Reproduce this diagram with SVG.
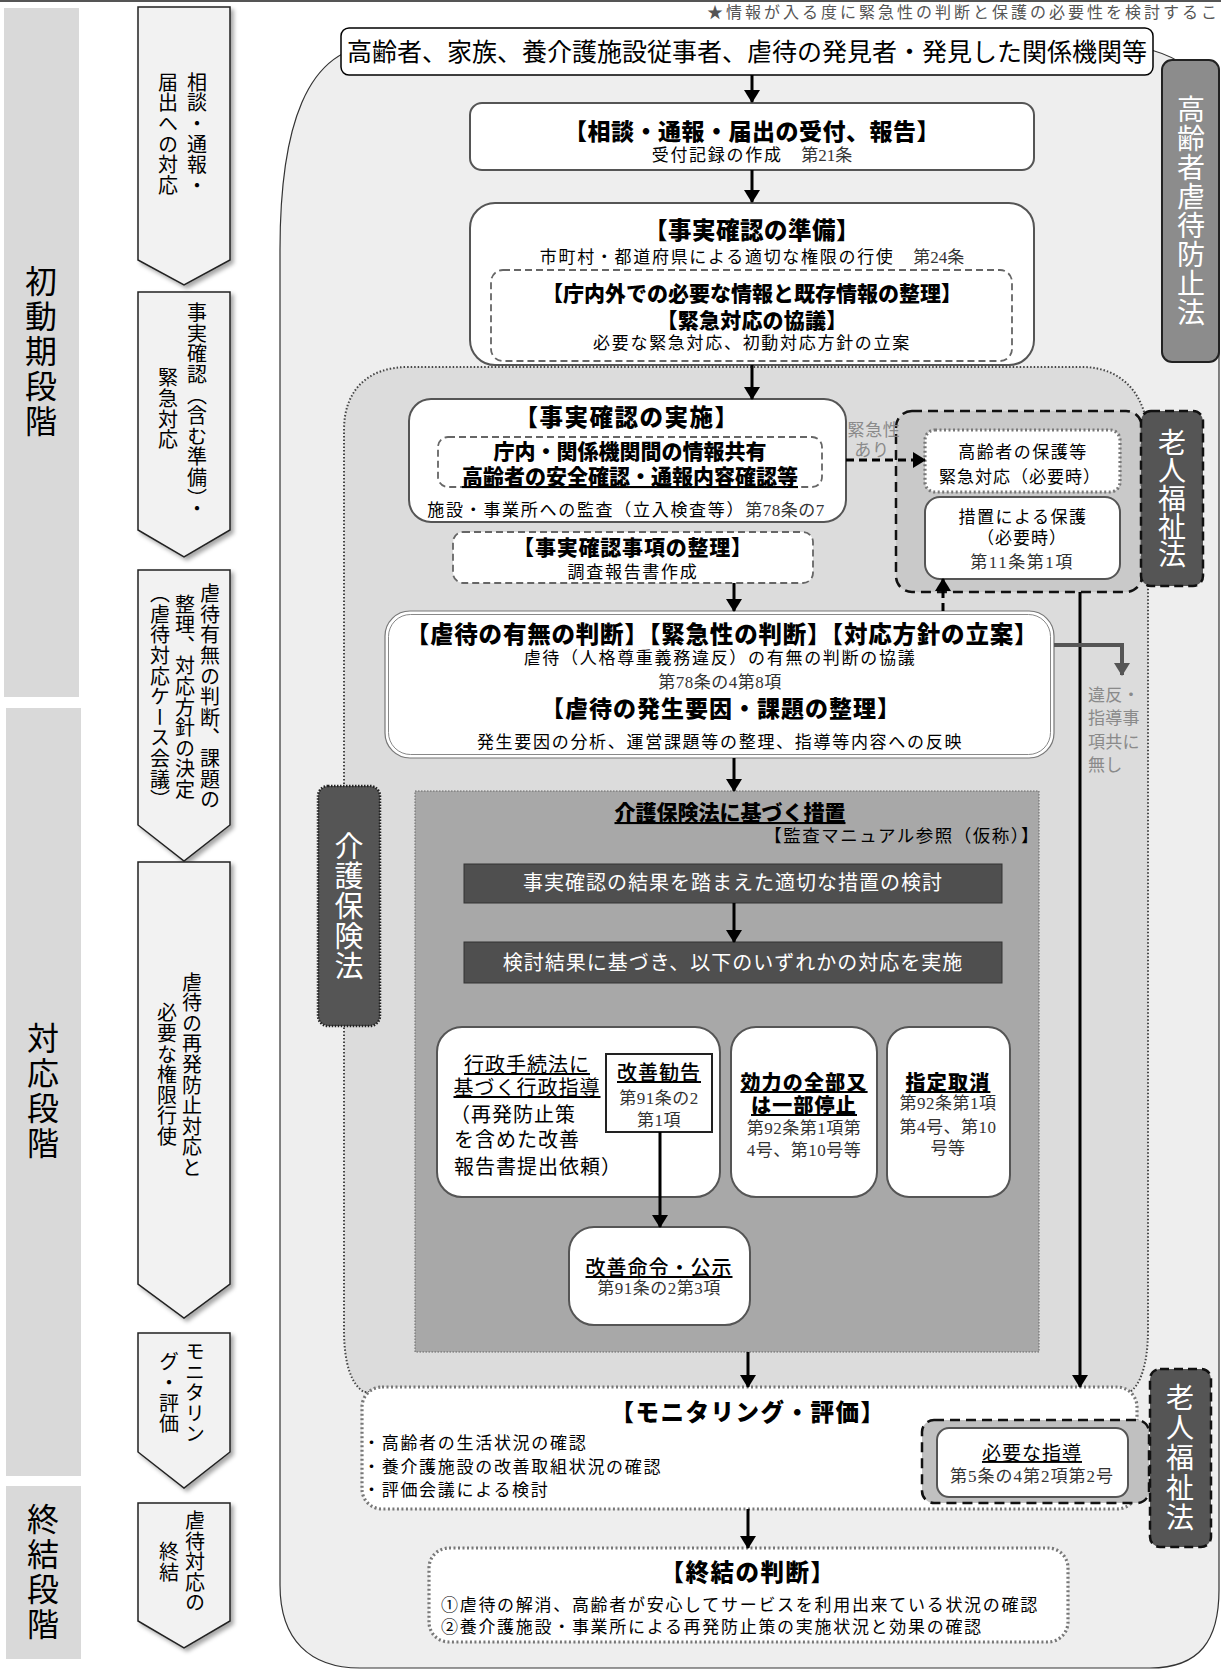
<svg xmlns="http://www.w3.org/2000/svg" width="1221" height="1669" viewBox="0 0 1221 1669">
<defs>
<style>
text{font-family:"Noto Sans CJK JP","Noto Sans",sans-serif;fill:#000}
.v{writing-mode:vertical-rl;text-anchor:middle}
.c{text-anchor:middle}
.e{text-anchor:end}
.b{font-weight:900}
.s{font-family:"Liberation Serif","Noto Sans CJK JP",serif;fill:#333}
.u{text-decoration:underline}
.w{fill:#fff}
.n{font-size:17px;letter-spacing:1.7px}
.phase{fill:#d9d9d9}
.arr{fill:#f2f2f2;stroke:#222;stroke-width:1.5;filter:url(#sh)}
.box{fill:#fff;stroke:#555;stroke-width:2}
.dash{fill:#fff;stroke:#666;stroke-width:1.8;stroke-dasharray:7 4}
.dot{fill:#fff;stroke:#777;stroke-width:3.2;stroke-dasharray:2 2.5}
.flow{stroke:#000;stroke-width:3;fill:none}
.dk{fill:#555;stroke:#111;stroke-width:2.5;stroke-dasharray:9 5}
.gl{fill:#8a8a8a;font-size:17px}
</style>
<filter id="sh" x="-20%" y="-10%" width="150%" height="130%"><feDropShadow dx="3" dy="3" stdDeviation="2" flood-color="#000" flood-opacity="0.35"/></filter>
<marker id="ah" viewBox="0 0 13 16" refX="12" refY="8" markerWidth="13" markerHeight="16" markerUnits="userSpaceOnUse" orient="auto"><path d="M0,0L13,8L0,16z" fill="#000"/></marker>
<marker id="ahg" viewBox="0 0 13 16" refX="12" refY="8" markerWidth="13" markerHeight="16" markerUnits="userSpaceOnUse" orient="auto"><path d="M0,0L13,8L0,16z" fill="#555"/></marker>
</defs>
<rect width="1221" height="1669" fill="#fff"/>
<line x1="0" y1="1" x2="1221" y2="1" stroke="#555" stroke-width="2"/>
<text x="707" y="18" font-size="16" letter-spacing="3" style="fill:#555">★情報が入る度に緊急性の判断と保護の必要性を検討すること</text>

<g id="phase-labels">
<rect class="phase" x="4" y="8" width="75" height="689"/>
<text class="v" x="41" y="352" font-size="32" letter-spacing="3">初動期段階</text>
<rect class="phase" x="6" y="708" width="75" height="768"/>
<text class="v" x="43" y="1092" font-size="32" letter-spacing="3">対応段階</text>
<rect class="phase" x="6" y="1486" width="75" height="173"/>
<text class="v" x="43" y="1573" font-size="32" letter-spacing="3">終結段階</text>
</g>

<g id="step-arrows">
<path class="arr" d="M138,7H230V260L184,285L138,260Z"/>
<text class="v" x="197" y="134" font-size="20" letter-spacing="0.6">相談・通報・</text>
<text class="v" x="168" y="134" font-size="20" letter-spacing="0.6">届出への対応</text>
<path class="arr" d="M138,292H230V530L184,557L138,530Z"/>
<text class="v" x="197" y="411" font-size="20" letter-spacing="0.6">事実確認（含む準備）・</text>
<text class="v" x="168" y="409" font-size="20" letter-spacing="0.6">緊急対応</text>
<path class="arr" d="M138,570H230V825L184,861L138,825Z"/>
<text class="v" x="210" y="697" font-size="20" letter-spacing="0.6">虐待有無の判断、課題の</text>
<text class="v" x="185" y="697" font-size="20" letter-spacing="0.6">整理、対応方針の決定</text>
<text class="v" x="160" y="697" font-size="20" letter-spacing="0.6">（虐待対応ケース会議）</text>
<path class="arr" d="M138,862H230V1284L184,1318L138,1284Z"/>
<text class="v" x="192" y="1075" font-size="20" letter-spacing="0.6">虐待の再発防止対応と</text>
<text class="v" x="167" y="1075" font-size="20" letter-spacing="0.6">必要な権限行使</text>
<path class="arr" d="M138,1333H230V1452L184,1488L138,1452Z"/>
<text class="v" x="195" y="1393" font-size="20" letter-spacing="0.6">モニタリン</text>
<text class="v" x="169" y="1393" font-size="20" letter-spacing="0.6">グ・評価</text>
<path class="arr" d="M138,1503H230V1621L184,1648L138,1621Z"/>
<text class="v" x="195" y="1562" font-size="20" letter-spacing="0.6">虐待対応の</text>
<text class="v" x="169" y="1562" font-size="20" letter-spacing="0.6">終結</text>
</g>

<g id="main-frame">
<path d="M280,250 C280,130 305,45 380,45 L1110,45 C1170,45 1219,75 1219,130 L1219,1590 C1219,1640 1200,1668 1150,1668 L360,1668 C310,1668 280,1640 280,1585 Z" fill="#eeeeee" stroke="#333" stroke-width="1.2"/>
</g>
<g id="inner-region">
<path d="M344,1330 L344,430 C344,390 368,367 408,367 L1082,367 C1122,367 1148,395 1148,440 L1148,1330 C1148,1365 1140,1385 1130,1392 L364,1392 C352,1385 344,1365 344,1330 Z" fill="#dcdcdc" stroke="#444" stroke-width="2" stroke-dasharray="1.5 2"/>
</g>

<g id="law-elder-abuse">
<rect x="1162" y="60" width="57" height="302" rx="10" fill="#8c8c8c" stroke="#222" stroke-width="2"/>
<text class="v w" x="1191" y="211" font-size="28" letter-spacing="1">高齢者虐待防止法</text>
</g>

<g id="source">
<rect x="341" y="28" width="812" height="47" rx="8" fill="#fff" stroke="#000" stroke-width="1.5"/>
<text class="c" x="747" y="61" font-size="25">高齢者、家族、養介護施設従事者、虐待の発見者・発見した関係機関等</text>
</g>

<g id="reception">
<rect class="box" x="470" y="103" width="564" height="67" rx="12"/>
<text class="c b" x="752" y="140" font-size="23" letter-spacing="0.5">【相談・通報・届出の受付、報告】</text>
<text class="c" x="752" y="161"><tspan class="n">受付記録の作成　</tspan><tspan class="s" font-size="17">第21条</tspan></text>
</g>

<g id="prep">
<rect class="box" x="470" y="203" width="564" height="162" rx="25"/>
<text class="c b" x="752" y="239" font-size="23.5" letter-spacing="0.5">【事実確認の準備】</text>
<text class="c" x="752" y="263"><tspan class="n">市町村・都道府県による適切な権限の行使　</tspan><tspan class="s" font-size="17">第24条</tspan></text>
<rect class="dash" x="491" y="270" width="521" height="91" rx="12"/>
<text class="c b" x="752" y="301" font-size="21">【庁内外での必要な情報と既存情報の整理】</text>
<text class="c b" x="752" y="328" font-size="21" letter-spacing="0.2">【緊急対応の協議】</text>
<text class="c n" x="752" y="349">必要な緊急対応、初動対応方針の立案</text>
</g>

<g id="elder-welfare-1">
<rect x="896" y="411" width="246" height="181" rx="16" fill="#c9c9c9" stroke="#111" stroke-width="2.5" stroke-dasharray="10 6"/>
<rect class="dot" x="925" y="430" width="195" height="62" rx="10"/>
<text class="c" x="1023" y="458" font-size="17" letter-spacing="1.5">高齢者の保護等</text>
<text class="c" x="1020" y="483" font-size="17" letter-spacing="1">緊急対応（必要時）</text>
<rect class="box" x="925" y="497" width="195" height="82" rx="15"/>
<text class="c" x="1023" y="523" font-size="17" letter-spacing="1.5">措置による保護</text>
<text class="c" x="1022" y="544" font-size="17" letter-spacing="1">（必要時）</text>
<text class="c s" x="1022" y="568" font-size="17" letter-spacing="1.5">第11条第1項</text>
<rect class="dk" x="1141" y="411" width="62" height="175" rx="10"/>
<text class="v w" x="1172" y="498" font-size="28">老人福祉法</text>
</g>

<g id="fact-check">
<rect class="box" x="409" y="399" width="437" height="123" rx="22"/>
<text class="c b" x="627" y="426" font-size="23.5" letter-spacing="1.5">【事実確認の実施】</text>
<rect class="dash" x="438" y="437" width="384" height="50" rx="10"/>
<text class="c b" x="630" y="459" font-size="21">庁内・関係機関間の情報共有</text>
<text class="c b u" x="630" y="484" font-size="21">高齢者の安全確認・通報内容確認等</text>
<text class="c" x="626" y="516"><tspan class="n">施設・事業所への監査（立入検査等）</tspan><tspan class="s" font-size="17" letter-spacing="0.5">第78条の7</tspan></text>
</g>

<g id="fact-summary">
<rect class="dash" x="453" y="532" width="360" height="51" rx="10"/>
<text class="c b" x="633" y="555" font-size="21" letter-spacing="0.8">【事実確認事項の整理】</text>
<text class="c n" x="633" y="578">調査報告書作成</text>
</g>

<g id="judgement">
<rect x="385" y="611" width="669" height="147" rx="25" fill="#fff" stroke="#777" stroke-width="1.2"/>
<rect x="388.5" y="614.5" width="662" height="140" rx="22" fill="none" stroke="#888" stroke-width="1"/>
<text class="c b" x="722" y="643" font-size="23.5" letter-spacing="0.8">【虐待の有無の判断】【緊急性の判断】【対応方針の立案】</text>
<text class="c n" x="720" y="664">虐待（人格尊重義務違反）の有無の判断の協議</text>
<text class="c s" x="720" y="688" font-size="17" letter-spacing="0.5">第78条の4第8項</text>
<text class="c b" x="721" y="717" font-size="23" letter-spacing="1">【虐待の発生要因・課題の整理】</text>
<text class="c n" x="720" y="748">発生要因の分析、運営課題等の整理、指導等内容への反映</text>
</g>

<g id="law-care-insurance">
<rect x="318" y="786" width="62" height="240" rx="10" fill="#555" stroke="#222" stroke-width="2.5" stroke-dasharray="1.5 1.5"/>
<text class="v w" x="349" y="906" font-size="29" letter-spacing="1">介護保険法</text>
</g>

<g id="measures">
<rect x="415" y="791" width="624" height="561" fill="#a8a8a8" stroke="#666" stroke-width="1" stroke-dasharray="1.5 1.5"/>
<text class="c b u" x="730" y="820" font-size="21">介護保険法に基づく措置</text>
<text class="e" x="1040" y="842" font-size="17.5" letter-spacing="1.5">【監査マニュアル参照（仮称）】</text>
</g>
<g id="consider">
<rect x="464" y="864" width="538" height="39" fill="#4f4f4f" stroke="#333" stroke-width="1"/>
<text class="c w" x="733" y="890" font-size="20" letter-spacing="1">事実確認の結果を踏まえた適切な措置の検討</text>
</g>
<g id="implement">
<rect x="464" y="942" width="538" height="41" fill="#4f4f4f" stroke="#333" stroke-width="1"/>
<text class="c w" x="733" y="970" font-size="20" letter-spacing="1">検討結果に基づき、以下のいずれかの対応を実施</text>
</g>
<g id="admin-guidance">
<rect class="box" x="437" y="1027" width="283" height="170" rx="25"/>
<text class="c u" x="527" y="1072" font-size="20" letter-spacing="1">行政手続法に</text>
<text class="c u" x="527" y="1095" font-size="20" letter-spacing="1">基づく行政指導</text>
<text x="450" y="1122" font-size="20" letter-spacing="1">（再発防止策</text>
<text x="454" y="1147" font-size="20" letter-spacing="1">を含めた改善</text>
<text x="454" y="1174" font-size="20" letter-spacing="1">報告書提出依頼）</text>
</g>
<g id="recommendation">
<rect x="606" y="1054" width="106" height="78" fill="#fff" stroke="#222" stroke-width="2"/>
<text class="c u" x="659" y="1080" font-size="20" font-weight="500" letter-spacing="1">改善勧告</text>
<text class="c s" x="659" y="1104" font-size="17" letter-spacing="0.5">第91条の2</text>
<text class="c s" x="659" y="1126" font-size="17" letter-spacing="0.5">第1項</text>
</g>
<g id="suspension">
<rect class="box" x="731" y="1027" width="146" height="170" rx="25"/>
<text class="c b u" x="804" y="1090" font-size="20" letter-spacing="1.2">効力の全部又</text>
<text class="c b u" x="804" y="1113" font-size="20" letter-spacing="1.2">は一部停止</text>
<text class="c s" x="804" y="1134" font-size="17" letter-spacing="0.5">第92条第1項第</text>
<text class="c s" x="804" y="1156" font-size="17" letter-spacing="0.5">4号、第10号等</text>
</g>
<g id="revocation">
<rect class="box" x="887" y="1027" width="123" height="170" rx="22"/>
<text class="c b u" x="948" y="1090" font-size="20" letter-spacing="1.2">指定取消</text>
<text class="c s" x="948" y="1109" font-size="17" letter-spacing="0.5">第92条第1項</text>
<text class="c s" x="948" y="1133" font-size="17" letter-spacing="0.5">第4号、第10</text>
<text class="c s" x="948" y="1154" font-size="17" letter-spacing="0.5">号等</text>
</g>
<g id="order">
<rect class="box" x="569" y="1227" width="181" height="98" rx="25"/>
<text class="c u" x="659" y="1275" font-size="20" font-weight="500" letter-spacing="1">改善命令・公示</text>
<text class="c s" x="659" y="1294" font-size="17" letter-spacing="0.5">第91条の2第3項</text>
</g>

<g id="monitoring">
<rect class="dot" x="362" y="1387" width="775" height="122" rx="20"/>
<text class="c b" x="748" y="1421" font-size="23.5" letter-spacing="1.5">【モニタリング・評価】</text>
<text class="n" x="363" y="1449">・高齢者の生活状況の確認</text>
<text class="n" x="363" y="1473">・養介護施設の改善取組状況の確認</text>
<text class="n" x="363" y="1496">・評価会議による検討</text>
</g>
<g id="elder-welfare-2">
<rect x="922" y="1420" width="227" height="83" rx="12" fill="#c0c0c0" stroke="#111" stroke-width="2.5" stroke-dasharray="10 6"/>
<rect class="box" x="937" y="1428" width="191" height="69" rx="12"/>
<text class="c u" x="1032" y="1460" font-size="19" letter-spacing="1">必要な指導</text>
<text class="c s" x="1032" y="1482" font-size="17" letter-spacing="1">第5条の4第2項第2号</text>
<rect class="dk" x="1150" y="1369" width="61" height="178" rx="10"/>
<text class="v w" x="1180" y="1458" font-size="28" letter-spacing="2">老人福祉法</text>
</g>

<g id="closure">
<rect class="dot" x="429" y="1548" width="639" height="94" rx="20"/>
<text class="c b" x="748" y="1581" font-size="23.5" letter-spacing="1.5">【終結の判断】</text>
<text class="n" x="441" y="1611">①虐待の解消、高齢者が安心してサービスを利用出来ている状況の確認</text>
<text class="n" x="441" y="1633">②養介護施設・事業所による再発防止策の実施状況と効果の確認</text>
</g>

<g id="connectors">
<path class="flow" d="M752,75V102" marker-end="url(#ah)"/>
<path class="flow" d="M752,170V202" marker-end="url(#ah)"/>
<path class="flow" d="M752,365V399" marker-end="url(#ah)"/>
<path class="flow" d="M734,583V611" marker-end="url(#ah)"/>
<path class="flow" d="M734,758V791" marker-end="url(#ah)"/>
<path class="flow" d="M734,903V942" marker-end="url(#ah)"/>
<path class="flow" d="M660,1132V1227" marker-end="url(#ah)"/>
<path class="flow" d="M748,1352V1387" marker-end="url(#ah)"/>
<path class="flow" d="M1080,592V1387" stroke-width="2.5" marker-end="url(#ah)"/>
<path class="flow" d="M748,1509V1548" marker-end="url(#ah)"/>
<path class="flow" d="M846,460H925" stroke-dasharray="8 5" marker-end="url(#ah)"/>
<path class="flow" d="M943,611V579" stroke-dasharray="8 5" marker-end="url(#ah)"/>
<path d="M1054,645H1122V675" fill="none" stroke="#555" stroke-width="4" marker-end="url(#ahg)"/>
<text class="gl c" x="874" y="436" letter-spacing="0.7">緊急性</text>
<text class="gl c" x="872" y="456" letter-spacing="0.7">あり</text>
<text class="gl" x="1088" y="701" letter-spacing="0.3">違反・</text>
<text class="gl" x="1088" y="724" letter-spacing="0.3">指導事</text>
<text class="gl" x="1088" y="748" letter-spacing="0.3">項共に</text>
<text class="gl" x="1088" y="771" letter-spacing="0.3">無し</text>
</g>
</svg>
